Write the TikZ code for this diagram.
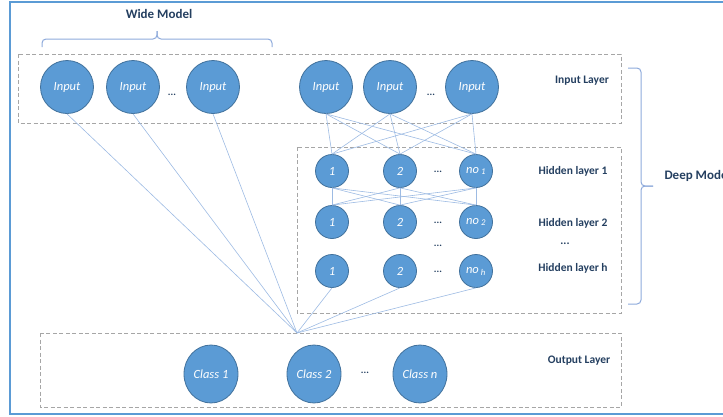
\documentclass[tikz,border=0pt]{standalone}
\usepackage{fontspec}
\setmainfont{Carlito}
\usetikzlibrary{shapes.geometric}
\definecolor{nodefill}{HTML}{5B9BD5}
\definecolor{nodeedge}{HTML}{41719C}
\definecolor{linkc}{HTML}{9DBBE3}
\definecolor{boxc}{HTML}{A6A6A6}
\definecolor{labelc}{HTML}{243F60}
\definecolor{framec}{HTML}{5B9BD5}
\definecolor{bracec}{HTML}{8EAADB}
\begin{document}
\begin{tikzpicture}[x=1pt,y=-1pt,
 nodetext/.style={text=white, font=\fontsize{12.5}{14}\selectfont\itshape},
 bignode/.style={circle, fill=nodefill, draw=nodeedge, line width=0.8pt, minimum size=53pt, inner sep=0pt, nodetext},
 hidnode/.style={circle, fill=nodefill, draw=nodeedge, line width=0.8pt, minimum size=33pt, inner sep=0pt, nodetext},
 outnode/.style={ellipse, fill=nodefill, draw=nodeedge, line width=0.8pt, minimum width=54pt, minimum height=58pt, inner sep=0pt, nodetext},
 layerbox/.style={draw=boxc, dash pattern=on 4pt off 2.5pt, line width=0.8pt},
 link/.style={draw=linkc, line width=0.6pt},
 lbl/.style={text=labelc, font=\fontsize{11.5}{13}\selectfont\bfseries},
 biglbl/.style={text=labelc, font=\fontsize{13}{15}\selectfont\bfseries},
 dots/.style={text=labelc, font=\fontsize{10}{12}\selectfont\bfseries, inner sep=0pt},
 bracel/.style={draw=bracec, line width=1pt, rounded corners=4pt},
]
\useasboundingbox (0,0) rectangle (723,416);
\clip (0,0) rectangle (723,416);
% frame
\draw[framec, line width=2pt] (10,2) rectangle (760,414);
% layer boxes
\draw[layerbox] (18,54) rectangle (621,123);
\draw[layerbox] (297,147) rectangle (621,313);
\draw[layerbox] (40,333) rectangle (621,407);
% braces
\draw[bracel] (42,47) -- (42,39) -- (157,39) -- (157,31);
\draw[bracel] (272,47) -- (272,39) -- (157,39) -- (157,31);
\draw[bracel] (628,68) -- (641,68) -- (641,186) -- (653,186);
\draw[bracel] (628,304) -- (641,304) -- (641,186) -- (653,186);
% labels
\node[biglbl] (lwide) at (159,14) {Wide Model};
\node[biglbl, anchor=west] (ldeep) at (661,176) {Deep Model};
\node[lbl] (linput) at (582,81) {Input Layer};
\node[lbl] (lh1) at (573,171) {Hidden layer 1};
\node[lbl] (lh2) at (573,223) {Hidden layer 2};
\node[lbl] (lhdots) at (565,244) {...};
\node[lbl] (lhh) at (573,268) {Hidden layer h};
\node[lbl] (lout) at (579,361) {Output Layer};
% wide inputs
\node[bignode] (w1) at (67,87) {Input};
\node[bignode] (w2) at (133,87) {Input};
\node[bignode] (w3) at (213,87) {Input};
\node[dots] (wdots) at (172,95) {...};
% deep inputs
\node[bignode] (d1) at (326,87) {Input};
\node[bignode] (d2) at (390,87) {Input};
\node[bignode] (d3) at (472,87) {Input};
\node[dots] (ddots) at (431,95) {...};
% hidden layers
\node[hidnode] (ha1) at (332,171) {1};
\node[hidnode] (ha2) at (400,171) {2};
\node[hidnode] (ha3) at (476,171) {no\,\textsubscript{1}};
\node[dots] (hadots) at (438,172) {...};
\node[hidnode] (hb1) at (332,222) {1};
\node[hidnode] (hb2) at (400,222) {2};
\node[hidnode] (hb3) at (476,222) {no\,\textsubscript{2}};
\node[dots] (hbdots) at (438,223) {...};
\node[dots] (hmdots) at (438,246) {...};
\node[hidnode] (hc1) at (332,271) {1};
\node[hidnode] (hc2) at (400,271) {2};
\node[hidnode] (hc3) at (476,271) {no\,\textsubscript{h}};
\node[dots] (hcdots) at (438,272) {...};
% output
\node[outnode] (c1) at (211,374) {Class 1};
\node[outnode] (c2) at (314,374) {Class 2};
\node[outnode] (cn) at (420,374) {Class n};
\node[dots] (cdots) at (365,373) {...};
\coordinate (cp) at (297,333);
% links
\foreach \i in {1,2,3}{
  \foreach \j in {1,2,3}{
    \draw[link] (d\i.south) -- (ha\j.north);
    \draw[link] (ha\i.south) -- (hb\j.north);
  }
  \draw[link] (w\i.south) -- (cp);
  \draw[link] (hc\i.south) -- (cp);
}
\end{tikzpicture}
\end{document}
